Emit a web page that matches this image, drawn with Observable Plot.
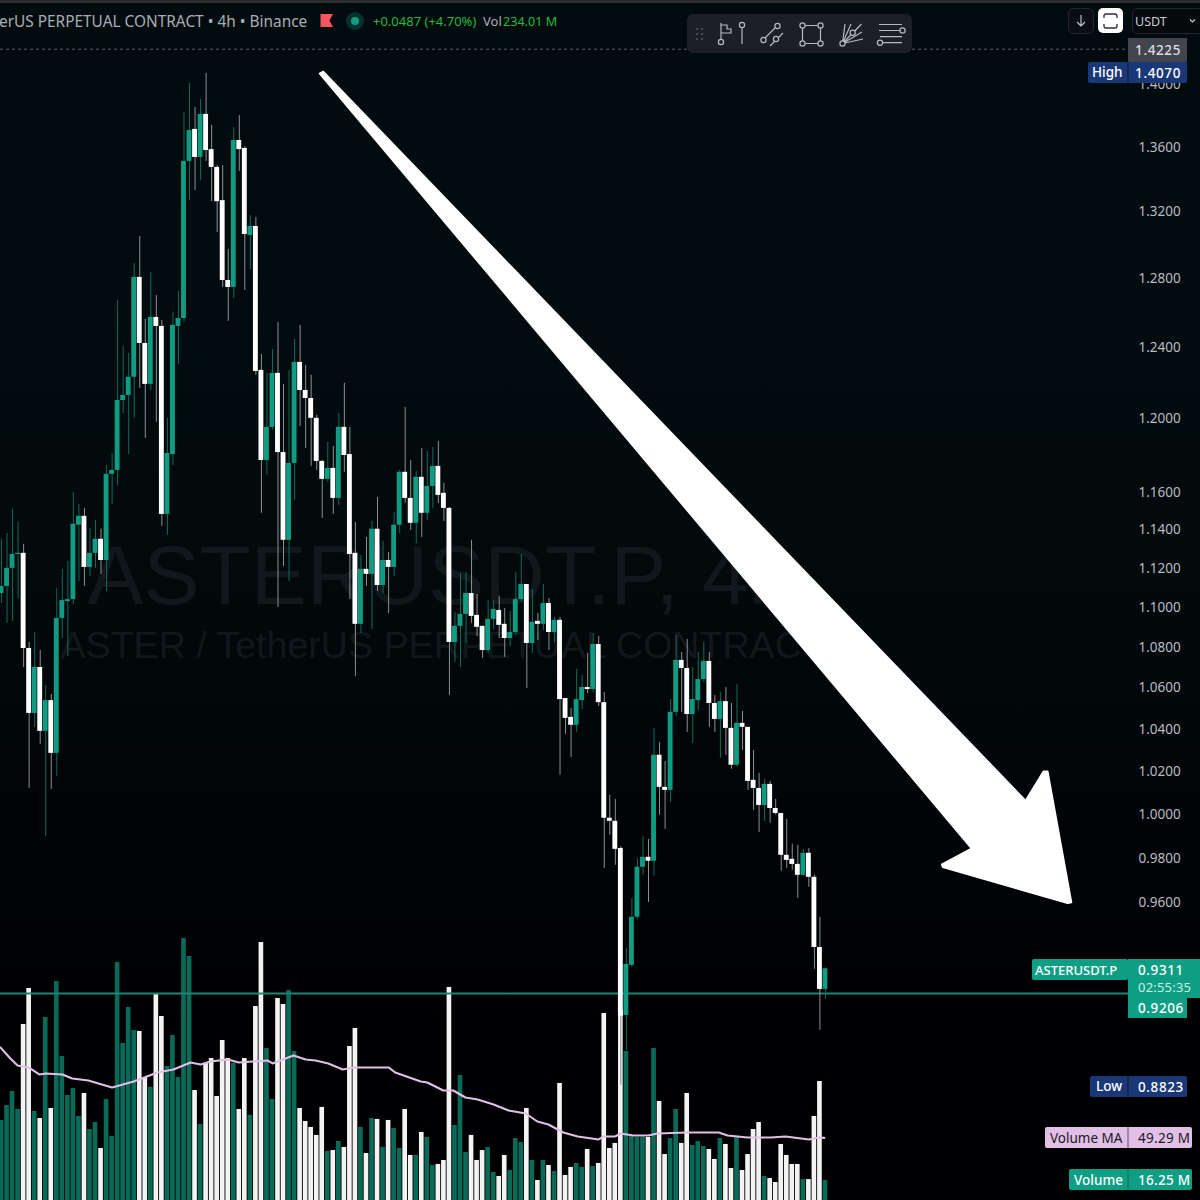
<!DOCTYPE html>
<html><head><meta charset="utf-8">
<script src="https://cdn.jsdelivr.net/npm/d3@7"></script>
<script src="https://cdn.jsdelivr.net/npm/@observablehq/plot@0.6"></script>
<style>
html,body{margin:0;padding:0;background:#010305}
#chart{position:relative;width:1200px;height:1200px;overflow:hidden;background:linear-gradient(#020c0f 0%,#020a0c 45%,#000003 85%,#000003 100%)}
#chart svg{position:absolute;left:0;top:0}
</style></head><body><div id="chart"></div>
<script>
const open=[1.1069,1.1105,1.1198,1.1270,1.1276,1.0792,1.0474,1.0698,1.0388,1.0536,
1.0283,1.0943,1.1028,1.1038,1.1423,1.1470,1.1203,1.1276,1.1349,1.1239,
1.1694,1.1715,1.2099,1.2127,1.2229,1.2805,1.2421,1.2189,1.2571,1.2519,
1.1480,1.1801,1.2519,1.2565,1.3508,1.3709,1.3533,1.3804,1.3582,1.3471,
1.3266,1.2787,1.2746,1.3639,1.3589,1.3055,1.3109,1.2268,1.1769,1.1950,
1.2251,1.1812,1.1344,1.1753,1.2313,1.2155,1.2110,1.2000,1.1764,1.1667,
1.1726,1.1565,1.1950,1.1801,1.1276,1.0913,1.1193,1.1167,1.1402,1.1110,
1.1239,1.1203,1.1423,1.1705,1.1565,1.1433,1.1678,1.1486,1.1629,1.1737,
1.1592,1.1512,1.0822,1.0903,1.0963,1.1069,1.0958,1.0903,1.0782,1.0938,
1.0983,1.0913,1.0842,1.0872,1.1038,1.1115,1.0817,1.0928,1.0913,1.1018,
1.0872,1.0933,1.0546,1.0455,1.0417,1.0536,1.0600,1.0590,1.0812,1.0526,
.9980,.9966,.9842,.9113,.9326,.9535,.9757,.9802,.9784,1.0274,
1.0123,1.0109,1.0479,1.0733,1.0693,1.0469,1.0536,1.0639,1.0728,1.0522,
1.0445,1.0531,1.0402,1.0227,1.0426,1.0407,1.0156,1.0118,1.0039,1.0137,
1.0025,1.0002,.9811,.9793,.9770,.9721,.9820,.9712,.9403,.9223];
const close=[1.1105,1.1198,1.1270,1.1276,1.0792,1.0474,1.0698,1.0388,1.0536,1.0283,
1.0943,1.1033,1.1038,1.1428,1.1470,1.1203,1.1276,1.1349,1.1239,1.1694,
1.1715,1.2099,1.2127,1.2229,1.2805,1.2421,1.2189,1.2571,1.2519,1.1480,
1.1807,1.2525,1.2565,1.3508,1.3702,1.3533,1.3804,1.3576,1.3471,1.3260,
1.2787,1.2746,1.3639,1.3582,1.3061,1.3109,1.2262,1.1769,1.1950,1.2251,
1.1812,1.1344,1.1753,1.2313,1.2155,1.2110,1.2000,1.1764,1.1667,1.1726,
1.1565,1.1950,1.1796,1.1270,1.0913,1.1193,1.1167,1.1402,1.1110,1.1239,
1.1203,1.1423,1.1705,1.1565,1.1433,1.1678,1.1486,1.1629,1.1737,1.1581,
1.1512,1.0822,1.0903,1.0963,1.1069,1.0953,1.0898,1.0782,1.0938,1.0988,
1.0908,1.0842,1.0872,1.1038,1.1115,1.0817,1.0923,1.0913,1.1018,1.0872,
1.0933,1.0541,1.0450,1.0417,1.0541,1.0600,1.0590,1.0812,1.0526,.9980,
.9966,.9838,.9109,.9330,.9535,.9757,.9802,.9784,1.0274,1.0123,
1.0109,1.0479,1.0733,1.0693,1.0469,1.0541,1.0639,1.0728,1.0522,1.0445,
1.0531,1.0402,1.0227,1.0426,1.0407,1.0151,1.0118,1.0039,1.0137,1.0025,
1.0002,.9811,.9788,.9770,.9721,.9820,.9712,.9403,.9223,.9311];
const high=[1.1349,1.1380,1.1507,1.1438,1.1323,1.0822,1.0872,1.0782,1.0610,1.0566,
1.1095,1.1193,1.1234,1.1597,1.1533,1.1512,1.1407,1.1449,1.1402,1.1742,
1.1807,1.2669,1.2404,1.2364,1.2887,1.3049,1.2560,1.2833,1.2699,1.2554,
1.2000,1.2600,1.2722,1.3816,1.4002,1.3848,1.3898,1.4067,1.3734,1.3483,
1.3483,1.2970,1.3721,1.3797,1.3601,1.3175,1.3163,1.2358,1.2251,1.2387,
1.2542,1.2189,1.2268,1.2444,1.2525,1.2296,1.2240,1.2016,1.1769,1.1867,
1.1845,1.2027,1.2195,1.1950,1.1438,1.1265,1.1359,1.1443,1.1570,1.1339,
1.1281,1.1491,1.1715,1.2060,1.1769,1.1710,1.1834,1.1818,1.1840,1.1873,
1.1646,1.1517,1.0973,1.1172,1.1177,1.1344,1.1064,1.0903,1.1033,1.1033,
1.1054,1.0993,1.0978,1.1177,1.1270,1.1115,1.1090,1.0968,1.1115,1.1043,
1.0948,1.0948,1.0546,1.0498,1.0689,1.0659,1.0767,1.0867,1.0852,1.0575,
1.0086,1.0067,.9851,.9399,.9618,.9797,.9897,.9883,1.0402,1.0335,
1.0245,1.0541,1.0857,1.0772,1.0837,1.0698,1.0772,1.0822,1.0772,1.0561,
1.0575,1.0600,1.0522,1.0615,1.0483,1.0407,1.0297,1.0189,1.0160,1.0151,
1.0067,1.0002,.9975,.9861,.9856,.9838,.9842,.9721,.9535,.9311];
const low=[1.1018,1.0918,1.0928,1.1043,1.0698,1.0118,1.0407,1.0326,.9897,1.0114,
1.0175,1.0842,1.0752,1.1013,1.1131,1.1105,1.1157,1.1198,1.1167,1.1079,
1.1533,1.1635,1.2027,1.1801,1.2000,1.2167,1.1889,1.2155,1.1978,1.1417,
1.1370,1.1742,1.2302,1.2542,1.3266,1.3328,1.3390,1.3508,1.3260,1.3073,
1.2746,1.2548,1.2681,1.3446,1.2728,1.2852,1.2240,1.1486,1.1689,1.1933,
1.0998,1.1208,1.1131,1.1554,1.1955,1.1834,1.1737,1.1715,1.1459,1.1651,
1.1480,1.1528,1.1705,1.1038,1.0654,1.0867,1.1105,1.0887,1.1079,1.1069,
1.0968,1.1157,1.1380,1.1538,1.1396,1.1323,1.1359,1.1449,1.1512,1.1538,
1.1443,1.0561,1.0723,1.0698,1.0817,1.0918,1.0852,1.0743,1.0767,1.0887,
1.0842,1.0748,1.0802,1.0857,1.1023,1.0595,1.0767,1.0832,1.0882,1.0782,
1.0822,1.0180,1.0374,1.0264,1.0383,1.0493,1.0570,1.0575,1.0507,.9752,
.9902,.9766,.8824,.8967,.9317,.9526,.9721,.9600,.9717,.9994,
.9929,1.0053,1.0459,1.0479,1.0383,1.0330,1.0488,1.0625,1.0407,1.0383,
1.0259,1.0274,1.0208,1.0217,1.0297,1.0109,1.0016,.9915,.9966,.9957,
.9994,.9739,.9752,.9743,.9618,.9717,.9667,.9309,.9051,.9180];
const volume=[62.8,74.4,85.3,71.3,137.2,165.1,69.8,64.3,142.6,72.1,
170.5,112.4,82.2,87.6,65.9,83.7,55.8,61.2,41.1,79.1,
50.4,185.2,122.5,150.4,132.5,131.8,96.1,88.4,161.2,143.4,
104.6,128.7,96.1,203.8,189.9,86,59.7,107,110.8,81.4,
124.8,110.8,107,71.3,110.8,66.7,151.1,200.7,118.6,79.1,
157.3,152.7,163.5,116.3,72.1,62,57.4,51.2,72.9,38.8,
39.5,46.5,41.9,120.1,134.1,57.4,37.2,64.3,63.6,41.9,
62.8,56.6,41.1,71.3,35.7,35.7,53.5,49.6,27.9,28.7,
31.8,165.9,58.9,97.7,38,51.2,31.8,39.5,41.9,22.5,
19.4,35.7,24,48.8,45.7,72.1,31.8,16.3,31.8,27.9,
23.3,91.5,20.2,26.4,29.5,26.4,40.3,27.1,29.5,145.7,
41.1,45,148,116.3,51.2,49.6,49.6,49.6,118.6,77.5,
36.4,48.8,71.3,45,83.7,43.4,46.5,42.6,40.3,32.6,
48.8,44.2,25.6,49.6,24,36.4,55.8,61.2,19.4,17.8,
14.7,44.2,35.7,28.7,28.7,17,17,65.9,93,16.25];
const maIndex=[-0.2,1.6,2.9,4.9,6.9,8,11,12.8,15.7,20,23.9,28.2,31.1,34.2,36,37.8,40.9,42.9,48.1,49,52.8,55,56.8,59.1,61.7,63.7,65.8,70,71.2,75.8,77,79.9,81.7,83.9,86.1,89,91.7,94.8,96.9,98.9,101.6,104.2,108,108.9,111,111.9,114.3,117,118.6,124,129.7,131.3,134.9,139.1,141.8,146,147.8,148.8];
const maValue=[119.4,110.8,105.4,103.9,98.4,99.2,98.4,95.3,93.8,88.4,93,100,102.3,107.7,106.2,108.5,110,107.7,109.3,107,113.2,110,109.3,107,102.3,103.9,103.9,103.9,100,93,92.2,86,86,80.6,79.1,75.2,70.5,68.2,62,59.7,53.5,50.4,48.1,50.4,50.4,52.7,51.2,51.2,52.7,53.5,53.5,51.2,49.6,49.6,50.4,48.1,49.6,49.29];
const arrowIndex=[57.5,58.2,185.2,188.4,189.2,193.5,192.8,170.2,170,175.4];
const arrowPrice=[1.4067,1.4080,1.0062,1.0198,1.0198,0.9600,0.9596,0.9757,0.9770,0.9842];
const priceTicks=[1.40,1.36,1.32,1.28,1.24,1.20,1.16,1.14,1.12,1.10,1.08,1.06,1.04,1.02,1.00,0.98,0.96,0.94,0.90,0.868,0.853,0.8385];
const candles=open.map((o,i)=>({i,open:o,close:close[i],high:high[i],low:low[i],volume:volume[i],up:close[i]>=o}));
const ma=maIndex.map((x,k)=>({x,v:maValue[k]}));
const arrow=arrowIndex.map((x,k)=>({x,p:arrowPrice[k]}));
const UI='"Noto Sans",sans-serif';
const xScale={type:"linear",domain:[-0.1808,203.8],range:[0,1128]};
const base={width:1200,height:1200,marginLeft:0,marginRight:72,marginTop:0,marginBottom:0,x:{...xScale,axis:null},style:{background:"transparent",overflow:"hidden"}};
const wm=(t,size,dx,dy)=>Plot.text([t],{frameAnchor:"top-left",dx,dy,textAnchor:"start",lineAnchor:"top",fontSize:size,fontFamily:"Liberation Sans",fill:"#11181b"});
const lower=Plot.plot({...base,y:{type:"linear",domain:[0.775,930.8],range:[1200,0],axis:null},marks:[
  wm("ASTERUSDT.P, 4h",84,87,544),wm("ASTER / TetherUS PERPETUAL CONTRACT",37.6,60,631),
  Plot.rect(candles,{x1:d=>d.i-0.42,x2:d=>d.i+0.42,y1:0,y2:"volume",fill:d=>d.up?"#0a6a58":"#f3f3f3"}),
  Plot.line(ma,{x:"x",y:"v",stroke:"#e1bfe6",strokeWidth:2.1,curve:"linear"})
]});
function chrome(){
  const g=d3.create("svg:g");
  const R=(x,y,w,h,f,o={})=>g.append("rect").attr("x",x).attr("y",y).attr("width",w).attr("height",h).attr("fill",f).attr("rx",o.rx||0).attr("stroke",o.s||"none");
  const T=(t,x,y,f,s=13.5,o={})=>g.append("text").text(t).attr("x",x).attr("y",y).attr("fill",f).attr("font-size",s).attr("font-family",UI).attr("dominant-baseline","central").attr("letter-spacing",o.ls||0).attr("text-anchor",o.a||"start").attr("font-weight",o.w||400);
  const P=(d,c="#b6b9c0",w=1.2)=>g.append("path").attr("d",d).attr("fill","none").attr("stroke",c).attr("stroke-width",w);
  const C=(x,y,r=2.6,c="#b6b9c0")=>g.append("circle").attr("cx",x).attr("cy",y).attr("r",r).attr("fill","#1c1f24").attr("stroke",c).attr("stroke-width",1.2);
  R(0,0,1200,3,"#2c2c2e");
  T("erUS PERPETUAL CONTRACT • 4h • Binance",-1,21,"#a9aeb4",15.4);
  P("M320.5 14H333L329.5 20.5L333 27H320.5Z","none",0).attr("fill","#f5565e");
  g.append("circle").attr("cx",355).attr("cy",21).attr("r",9).attr("fill","#06302c");
  g.append("circle").attr("cx",355).attr("cy",21).attr("r",4).attr("fill","#0e9e84");
  T("+0.0487 (+4.70%)",373,21,"#20bb3a",13);
  T("Vol",483,21,"#a9aeb4",13);
  T("234.01 M",503,21,"#20bb3a",12.6);
  // drawing toolbar
  R(687,14,225,39,"#1c1f24",{rx:6});
  for(const x of [697,702])for(const y of [29,34,39])g.append("circle").attr("cx",x).attr("cy",y).attr("r",1).attr("fill","#575a60");
  P("M721 23V40M721 25H727V29H731V33H721");C(721,42);P("M742 27V44");C(742,25);
  P("M765 38L775 28M770 46L783 33");C(777.5,26);C(763.5,40);C(776,39);
  P("M802.5 25.5H820.5V43.5H802.5Z");C(802.5,25.5);C(820.5,25.5);C(802.5,43.5);C(820.5,43.5);
  P("M842.5 43.5L845 24M842.5 43.5L851 24M842.5 43.5L861.5 24M842.5 43.5L863 39M842.5 43.5L862 32");C(842.5,43.5);C(852.7,32.7);
  P("M879 24.5H902M879 30.5H900M880 36.7H902M883 42.7H902");C(902.5,30.5);C(880,42.7);
  // top-right controls
  R(1068.5,8.5,25,25,"#0a0e12",{rx:5,s:"#24282f"});P("M1081 15V26M1077 22L1081 26L1085 22","#c8cbd0",1.1);
  R(1098,8,25,25,"#fff",{rx:5});P("M1104 18V16Q1104 14 1106 14H1115Q1117 14 1117 16V18M1104 24V26Q1104 28 1106 28H1115Q1117 28 1117 26V24","#2a2e39",1.3);
  R(1132.5,8.5,70,25,"#05090c",{rx:5,s:"#24282f"});T("USDT",1135,21,"#c8cbd0",12.5);P("M1190 19.5L1192.5 22L1195 19.5","#c8cbd0",1.1);
  // price tags
  const B="#1a3777",G="#0e9e84",L="#e1bfe6",W=500;
  R(1128,38,59,24,"#42454d");T("1.4225",1181,49.5,"#dcdde0",13.5,{a:"end",ls:.6,w:W});
  R(1088,62,99,21,B,{rx:2});T("High",1092,72,"#fff",13.5,{w:W});T("1.4070",1181,72.5,"#fff",13.5,{a:"end",ls:.6,w:W});
  g.append("line").attr("x1",1128).attr("x2",1128).attr("y1",62).attr("y2",83).attr("stroke","#0d1a33");
  R(1032,959,96,21,G,{rx:2});T("ASTERUSDT.P",1035,970,"#fff",13,{w:W});
  R(1128,959,72,39,G);R(1128,998,59,20,G);
  T("0.9311",1138,970,"#fff",13.5,{ls:.6,w:W});T("02:55:35",1138,987,"#c9eee6",13,{ls:.2});T("0.9206",1138,1008,"#fff",13.5,{ls:.6,w:W});
  R(1090,1076,97,21,B,{rx:2});T("Low",1096,1086,"#fff",13.5,{w:W});T("0.8823",1138,1086.5,"#fff",13.5,{ls:.6,w:W});
  g.append("line").attr("x1",1128).attr("x2",1128).attr("y1",1076).attr("y2",1097).attr("stroke","#0d1a33");
  R(1045,1127,147,21,L,{rx:2});T("Volume MA",1050,1137.5,"#1a1a1f",13.5);T("49.29 M",1138,1137.5,"#1a1a1f",13.5,{ls:.3});
  g.append("line").attr("x1",1128).attr("x2",1128).attr("y1",1127).attr("y2",1148).attr("stroke","#5f5563");
  R(1069,1169,123,21,G,{rx:2});T("Volume",1074,1179.5,"#fff",13.5,{w:W});T("16.25 M",1138,1179.5,"#fff",13.5,{ls:.3,w:W});
  g.append("line").attr("x1",1128).attr("x2",1128).attr("y1",1169).attr("y2",1190).attr("stroke","#0a6a58");
  return g.node();
}
const upper=Plot.plot({...base,y:{type:"log",domain:[0.8368,1.4548],range:[1200,0],axis:null},marks:[
  Plot.axisY({anchor:"right",ticks:priceTicks,tickFormat:d3.format(".4f"),tickSize:0,tickPadding:10,dy:0.5,label:null,fontSize:13.5,fontFamily:UI,fill:"#b8bbc1",textAnchor:"start"}),
  Plot.ruleY([1.4225],{stroke:"#5b5e63",strokeDasharray:"3 3",strokeWidth:1}),
  Plot.ruleY([0.9206],{stroke:"#1f8472",strokeWidth:2}),
  Plot.ruleX(candles,{x:"i",y1:"low",y2:"high",stroke:d=>d.up?"#0d6c5a":"#8e9092",strokeWidth:1}),
  Plot.rect(candles,{x1:d=>d.i-0.44,x2:d=>d.i+0.44,y1:"open",y2:"close",fill:d=>d.up?"#0f9c82":"#ffffff"}),
  Plot.line(arrow,{x:"x",y:"p",fill:"#ffffff",stroke:"#ffffff",strokeWidth:1.5,strokeLinejoin:"round",curve:"linear-closed"}),
  chrome
]});
const host=document.getElementById("chart");
host.append(lower,upper);
</script></body></html>
